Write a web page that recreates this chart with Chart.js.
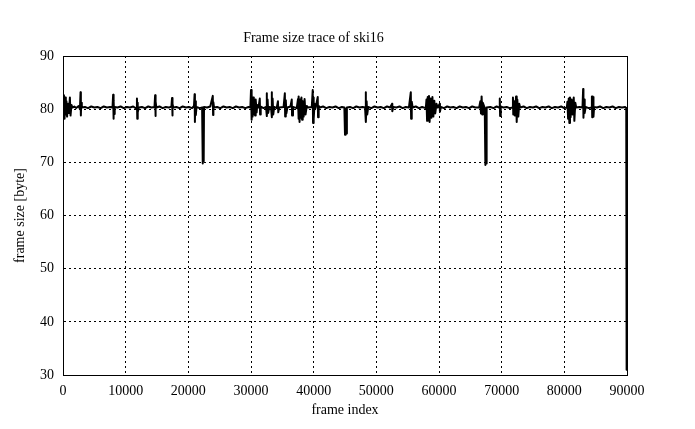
<!DOCTYPE html>
<html>
<head>
<meta charset="utf-8">
<title>Frame size trace of ski16</title>
<script src="https://cdn.jsdelivr.net/npm/chart.js@4/dist/chart.umd.min.js"></script>
<style>
  html, body { margin:0; padding:0; background:#fff; }
  #wrap { width:695px; height:429px; }
</style>
</head>
<body>
<div id="wrap"><canvas id="trace" width="695" height="429"></canvas></div>
<script>
// axis ticks
const xTicks = [0,10000,20000,30000,40000,50000,60000,70000,80000,90000];
const yTicks = [30,40,50,60,70,80,90];

// frame size trace, [frame index, size]
const trace0 = [
  [0,80.0],[150,82.6],[250,78.2],[350,82.2],[450,79.0],[550,81.5],[650,78.6],[800,81.0],[950,79.3],
  [1100,82.2],[1200,78.8],[1350,80.8],[1500,80.3],[1800,80.5],[2100,80.2],[2500,80.6],[2700,80.0],
  [2800,83.2],[2850,78.8],[2900,81.2],[3000,80.3],[3500,80.4],[4000,80.2],[4500,80.5],[5000,80.3],
  [5500,80.4],[6000,80.2],[6500,80.5],[7000,80.3],[7500,80.4],[7900,80.3],[8000,82.7],[8050,78.2],
  [8100,81.6],[8150,79.1],[8250,80.4],[8700,80.3],[9200,80.5],[9700,80.2],[10200,80.4],[10700,80.3],
  [11200,80.5],[11700,80.1],[11800,82.0],[11850,78.2],[11900,81.2],[11950,79.4],[12100,80.3],
  [12600,80.4],[13100,80.2],[13600,80.5],[14100,80.3],[14600,80.4],[14700,82.6],[14750,78.7],
  [14800,81.4],[14900,80.3],[15400,80.5],[15900,80.2],[16400,80.4],[16900,80.3],[17300,80.5],
  [17400,82.1],[17450,78.8],[17500,81.0],[17600,80.3],[18100,80.4],[18600,80.2],[19100,80.5],
  [19600,80.3],[20100,80.4],[20600,80.2],[20900,80.6],[21000,82.8],[21050,77.6],[21100,81.5],
  [21200,78.9],[21300,80.4],[21800,80.2],[22200,80.3],[22300,69.8],[22400,80.1],[22450,70.2],
  [22500,80.4],[23000,80.3],[23500,80.5],[23900,82.5],[23950,78.9],[24000,81.3],[24100,80.3],
  [24600,80.4],[25100,80.2],[25600,80.5],[26100,80.3],[26600,80.4],[27100,80.2],[27600,80.5],
  [28100,80.3],[28600,80.4],[29100,80.2],[29600,80.4],[29900,80.3]
];
const trace1 = [
  [30000,83.6],[30050,78.0],[30150,82.8],[30250,78.6],[30350,82.2],[30450,79.0],[30550,81.6],
  [30650,78.8],[30750,81.8],[30900,79.4],[31000,80.8],[31200,80.3],[31400,82.0],[31450,79.0],
  [31550,80.5],[32000,80.2],[32400,80.4],[32500,83.0],[32550,78.7],[32650,81.8],[32750,79.3],
  [32900,80.4],[33200,80.3],[33300,83.2],[33350,78.5],[33450,82.0],[33550,79.0],[33700,80.4],
  [34100,80.2],[34300,81.5],[34350,79.4],[34500,80.3],[35200,80.4],[35400,83.0],[35450,78.6],
  [35550,81.7],[35650,79.2],[35800,80.3],[36300,80.5],[36500,81.8],[36550,78.8],[36700,80.4],
  [37300,80.2],[37500,81.9],[37550,78.2],[37650,82.4],[37750,77.6],[37850,81.8],[37950,78.4],
  [38050,82.2],[38150,78.0],[38250,81.5],[38400,78.6],[38550,81.9],[38700,79.0],[38900,80.6],
  [39100,80.3],[39700,80.4],[39850,83.6],[39900,77.4],[39950,82.2],[40050,78.2],[40150,81.0],
  [40300,80.2],[40650,82.3],[40700,78.5],[40800,80.6],[41000,80.3],[41500,80.5],[42000,80.2],
  [42500,80.4],[43000,80.3],[43500,80.5],[44000,80.2],[44500,80.4],[44900,80.3],[45000,75.2],
  [45100,80.1],[45200,75.4],[45300,80.3],[45800,80.4],[46300,80.2],[46800,80.5],[47300,80.3],
  [47800,80.4],[48200,80.3],[48300,83.2],[48350,77.6],[48450,81.5],[48550,79.0],[48700,80.4],
  [49200,80.2],[49700,80.5],[50200,80.3],[50700,80.4],[51200,80.2],[51700,80.5],[52200,80.3],
  [52500,81.0],[52550,79.6],[52700,80.4],[53200,80.3],[53700,80.5],[54200,80.2],[54700,80.4],
  [55200,80.3],[55500,83.2],[55550,78.2],[55650,81.4],[55800,80.3],[56300,80.5],[56800,80.2],
  [57300,80.4],[57900,80.2],[58000,81.8],[58100,77.8],[58200,82.3],[58300,78.2],[58400,82.5],
  [58500,77.6],[58650,82.0],[58800,78.4],[58950,82.3],[59100,78.6],[59250,81.6],[59400,79.2],
  [59600,81.0],[59800,80.3]
];
const trace2 = [
  [60100,81.0],[60150,79.5],[60300,80.4],[60800,80.2],[61300,80.5],[61800,80.3],[62300,80.4],
  [62800,80.2],[63300,80.5],[63800,80.3],[64300,80.4],[64800,80.2],[65300,80.5],[65800,80.3],
  [66400,80.3],[66600,81.5],[66700,79.2],[66800,82.4],[66900,79.0],[67000,81.2],[67300,80.2],
  [67400,69.5],[67500,80.0],[67550,69.8],[67650,80.3],[68200,80.4],[68700,80.2],[69200,80.5],
  [69600,80.3],[69700,82.0],[69750,78.7],[69850,80.5],[70300,80.3],[70800,80.4],[71300,80.2],
  [71700,80.3],[71800,82.2],[71850,79.0],[72000,81.5],[72100,78.8],[72300,82.4],[72400,77.6],
  [72500,81.8],[72650,78.6],[72800,81.0],[72950,80.3],[73500,80.5],[74000,80.2],[74500,80.4],
  [75000,80.3],[75500,80.5],[76000,80.2],[76500,80.4],[77000,80.3],[77500,80.5],[78000,80.2],
  [78500,80.4],[79000,80.3],[79500,80.5],[80000,80.2],[80400,80.3],[80500,81.4],[80600,78.2],
  [80700,82.0],[80800,77.4],[80900,82.2],[81000,78.5],[81150,81.8],[81300,79.0],[81500,82.2],
  [81600,77.8],[81750,81.2],[81900,80.3],[82400,80.4],[82900,80.3],[83000,83.8],[83050,78.4],
  [83150,81.8],[83250,79.3],[83400,80.4],[83900,80.2],[84300,80.3],[84400,82.4],[84450,78.5],
  [84500,82.4],[84550,78.5],[84600,82.3],[84650,78.6],[84750,80.4],[85200,80.3],[85700,80.5],
  [86200,80.2],[86700,80.4],[87200,80.3],[87700,80.5],[88200,80.2],[88700,80.4],[89200,80.3],
  [89700,80.4]
];
// drop at the very end of the trace
const traceEnd = [
  [89880,80.2],[89900,63.4],[89920,80.0],[89940,43.8],[89960,31.0],[89980,43.6],[90000,31.0]
];

const FONT = "'Liberation Serif', 'Times New Roman', serif";
const points = trace0.concat(trace1, trace2, traceEnd).map(p => ({x:p[0], y:p[1]}));

// plain frame around the plot area like gnuplot
const frameBox = {
  id:'frameBox',
  afterDraw(c){
    const a = c.chartArea, ctx = c.ctx;
    ctx.save();
    ctx.strokeStyle = '#000'; ctx.lineWidth = 1;
    ctx.strokeRect(Math.round(a.left)+0.5, Math.round(a.top)+0.5, Math.round(a.right-a.left), Math.round(a.bottom-a.top));
    ctx.restore();
  }
};

new Chart(document.getElementById('trace').getContext('2d'), {
  type:'line',
  data:{
    datasets:[{
      data:points, borderColor:'#000', borderWidth:2, pointRadius:0,
      tension:0, fill:false, borderJoinStyle:'round', borderCapStyle:'butt'
    }]
  },
  options:{
    responsive:false, animation:false, events:[],
    layout:{ padding:{ left:0, right:68, top:0, bottom:0 } },
    plugins:{
      legend:{ display:false }, tooltip:{ enabled:false },
      title:{ display:true, text:'Frame size trace of ski16', color:'#000',
        font:{ family:FONT, size:14, weight:'normal', lineHeight:1.2 },
        padding:{ top:30, bottom:9.2 } }
    },
    scales:{
      x:{
        type:'linear', min:0, max:90000,
        afterBuildTicks: s => { s.ticks = xTicks.map(v => ({value:v})); },
        afterFit: s => { s.height = 54; },
        ticks:{ color:'#000', font:{ family:FONT, size:14 }, padding:8, maxRotation:0,
          callback: v => String(v) },
        grid:{ color:'#000', lineWidth:1, drawTicks:false },
        border:{ display:true, color:'#000', dash:[2,3] },
        title:{ display:true, text:'frame index', color:'#000',
          font:{ family:FONT, size:14, lineHeight:1.2 }, padding:{ top:0, bottom:10.6 } }
      },
      y:{
        min:30, max:90,
        afterBuildTicks: s => { s.ticks = yTicks.map(v => ({value:v})); },
        afterFit: s => { s.width = 63; },
        ticks:{ color:'#000', font:{ family:FONT, size:14 }, padding:9 },
        grid:{ color:'#000', lineWidth:1, drawTicks:false },
        border:{ display:true, color:'#000', dash:[2,3] },
        title:{ display:true, text:'frame size [byte]', color:'#000',
          font:{ family:FONT, size:14, lineHeight:1.2 }, padding:{ top:11.6, bottom:0 } }
      }
    }
  },
  plugins:[frameBox]
});
</script>
</body>
</html>
